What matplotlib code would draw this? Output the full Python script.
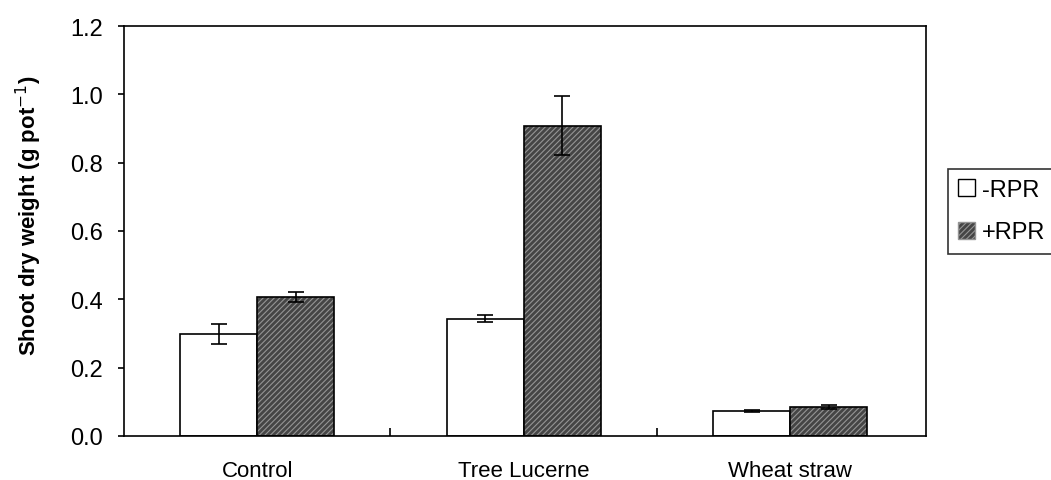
import matplotlib
matplotlib.use("Agg")
import matplotlib.pyplot as plt
import numpy as np
from matplotlib.patches import Patch

categories = ["Control", "Tree Lucerne", "Wheat straw"]
series_names = ["-RPR", "+RPR"]
minus_rpr = [0.298, 0.343, 0.073]
minus_err = [0.030, 0.010, 0.003]
plus_rpr = [0.407, 0.908, 0.085]
plus_err = [0.015, 0.086, 0.006]
yticks = [0.0, 0.2, 0.4, 0.6, 0.8, 1.0, 1.2]

plt.rcParams['font.family'] = ['Liberation Sans', 'DejaVu Sans']
plt.rcParams['hatch.linewidth'] = 0.8

fig = plt.figure(figsize=(10.51, 4.81), dpi=100)
ax = fig.add_axes([124/1051, 1-437/481, 802/1051, 410/481])

x = np.arange(len(categories))
w = 0.289
dark = '#454545'
hcol = '#959595'
ax.bar(x - w/2, minus_rpr, w, color='white', edgecolor='black', linewidth=1.2, zorder=2)
ax.bar(x + w/2, plus_rpr, w, color=dark, edgecolor=hcol, hatch='//////',
       linewidth=0, zorder=2)
ax.bar(x + w/2, plus_rpr, w, color='none', edgecolor='black', linewidth=1.2, zorder=3)
ax.errorbar(x - w/2, minus_rpr, yerr=minus_err, fmt='none', ecolor='black',
            elinewidth=1.2, capsize=5.5, capthick=1.2, zorder=4)
ax.errorbar(x + w/2, plus_rpr, yerr=plus_err, fmt='none', ecolor='black',
            elinewidth=1.2, capsize=5.5, capthick=1.2, zorder=4)

h1 = Patch(facecolor='white', edgecolor='black', linewidth=1)
h2 = Patch(facecolor=dark, edgecolor=hcol, hatch='//////', linewidth=1)
leg = fig.legend([h1, h2], series_names, loc='upper left',
                 bbox_to_anchor=(948/1051, 1-170/481), frameon=True, fancybox=False,
                 edgecolor='black', fontsize=17, handlelength=0.72, handleheight=0.72,
                 handletextpad=0.3, borderpad=0.43, labelspacing=0.86, borderaxespad=0)
leg.get_frame().set_linewidth(1.2)

ax.set_xlim(-0.5, 2.51)
ax.set_ylim(0, 1.2)
ax.set_yticks(yticks)
ax.set_yticklabels([f"{t:.1f}" for t in yticks], fontsize=17)
ax.set_xticks(x)
ax.set_xticklabels(categories, fontsize=16)
ax.tick_params(axis='x', length=0, pad=17)
ax.tick_params(axis='y', direction='out', length=4, width=1.2, pad=11)
ax.set_xticks([0.5, 1.5], minor=True)
ax.tick_params(axis='x', which='minor', direction='in', length=6, width=1.2)
for s in ax.spines.values():
    s.set_linewidth(1.2)
ax.set_ylabel("Shoot dry weight (g pot$^{-1}$)", fontsize=16, fontweight='bold')
ax.yaxis.set_label_coords(-0.100, 0.539)

fig.savefig("out.png", dpi=100)
